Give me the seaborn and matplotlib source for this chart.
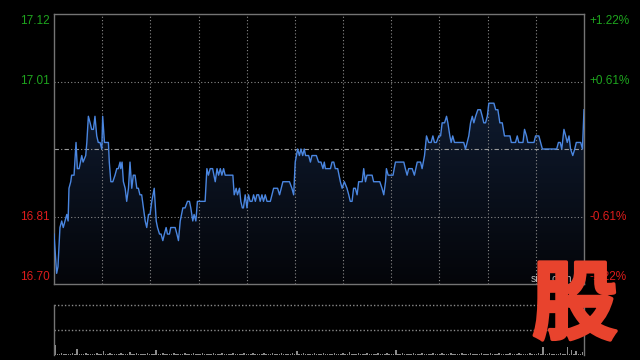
import numpy as np
import matplotlib
matplotlib.use("Agg")
import matplotlib.pyplot as plt
import matplotlib.patheffects as pe
from matplotlib.colors import LinearSegmentedColormap
import seaborn as sns

# ---------------- data ----------------
prev_close = 16.91
pct_range = 1.22
left_labels = ["17.12", "17.01", "16.81", "16.70"]
right_labels = ["+1.22%", "+0.61%", "-0.61%", "-1.22%"]

# minute index (0 = open) and price
t = [0, 1.2, 1.8, 2.7, 3.5, 4.2, 5, 5.8, 6.4, 6.8, 7.6, 8, 9.1, 10, 10.6, 11.4, 12.6, 13.2, 14.4, 14.9,
     15.6, 16.4, 17.1, 17.9, 18.6, 19.4, 20.1, 20.9, 21.7, 22.1, 22.9, 23.6, 24.7, 25.1, 25.8, 26.7, 27.7,
     28.5, 29.2, 30, 30.3, 30.9, 31.5, 32.3, 33, 33.8, 34.5, 35.3, 36, 36.8, 37.6, 38.3, 39, 39.8, 40.6,
     41.4, 42.1, 42.9, 43.6, 44.4, 45.5, 46.4, 47, 47.9, 48.6, 49.4, 50.1, 50.9, 51.5, 52.4, 53, 55, 55.8,
     56.5, 57.3, 58.5, 59.5, 60.6, 61.5, 62.1, 63, 63.6, 64.4, 65.1, 68.6, 69.4, 70.1, 70.9, 72, 73.2, 74,
     74.7, 75.5, 76.2, 77, 77.7, 81.2, 81.8, 82.7, 83.3, 84.2, 84.8, 85.5, 86, 86.8, 87.6, 88.3, 89, 89.9,
     90.6, 91.4, 92.1, 92.9, 93.6, 94.4, 95.1, 95.9, 96.7, 98.2, 99.7, 101.5, 102.4, 103.9, 106.9, 108,
     108.8, 109.5, 110.6, 111.4, 112.1, 112.9, 113.6, 114.2, 115.6, 116.4, 117.1, 119.1, 120.1, 121.2,
     122.1, 122.7, 123.2, 125.5, 126.2, 127, 127.7, 128.8, 130, 130.8, 131.8, 133, 133.8, 134.5, 135.3,
     136, 136.8, 137.6, 138.3, 139.9, 140.6, 141.4, 142.1, 144.4, 145.1, 147.9, 148.9, 149.7, 150.5,
     150.9, 151.7, 153.9, 155, 158.8, 159.5, 160.3, 161, 162.6, 163.6, 164.9, 166.4, 167.1, 168.2, 169.1,
     170.1, 171.2, 172, 172.7, 173.6, 174.7, 175.5, 176.2, 177.3, 178.2, 178.8, 179.7, 180.3, 181, 181.8,
     186, 186.8, 188.3, 189.1, 189.9, 190.6, 191.4, 192.4, 193.6, 194.4, 195.1, 195.9, 196.7, 197.4,
     199.7, 200.5, 201.5, 202.4, 203.5, 204.5, 207, 207.6, 209.5, 210.3, 211, 212.9, 213.6, 214.5, 215.1,
     217.9, 218.6, 220.1, 220.9, 221.7, 228.2, 229, 229.8, 230.5, 231.5, 232.3, 233, 233.8, 234.5, 235.5,
     236.4, 237.1, 239.1, 239.9, 240.6]

price = [16.78, 16.72, 16.73, 16.79, 16.80, 16.79, 16.80, 16.81, 16.80, 16.85, 16.86, 16.87, 16.87, 16.92,
         16.88, 16.88, 16.90, 16.89, 16.90, 16.92, 16.96, 16.95, 16.94, 16.94, 16.96, 16.93, 16.92, 16.92,
         16.91, 16.96, 16.92, 16.92, 16.92, 16.89, 16.86, 16.86, 16.87, 16.88, 16.88, 16.89, 16.88, 16.89,
         16.86, 16.85, 16.83, 16.85, 16.89, 16.85, 16.87, 16.87, 16.85, 16.85, 16.84, 16.84, 16.82, 16.80,
         16.79, 16.81, 16.81, 16.83, 16.85, 16.80, 16.79, 16.78, 16.78, 16.77, 16.78, 16.79, 16.78, 16.78,
         16.79, 16.79, 16.78, 16.77, 16.80, 16.82, 16.82, 16.83, 16.83, 16.82, 16.80, 16.81, 16.80, 16.83,
         16.83, 16.88, 16.87, 16.88, 16.88, 16.86, 16.88, 16.87, 16.88, 16.87, 16.88, 16.87, 16.87, 16.84,
         16.85, 16.84, 16.85, 16.83, 16.82, 16.82, 16.84, 16.82, 16.84, 16.83, 16.83, 16.84, 16.83, 16.84,
         16.84, 16.83, 16.84, 16.83, 16.84, 16.83, 16.83, 16.85, 16.85, 16.84, 16.86, 16.86, 16.85, 16.84,
         16.89, 16.91, 16.90, 16.91, 16.90, 16.91, 16.90, 16.90, 16.89, 16.90, 16.90, 16.89, 16.89, 16.88,
         16.89, 16.88, 16.88, 16.89, 16.89, 16.88, 16.88, 16.86, 16.85, 16.86, 16.85, 16.84, 16.83, 16.83,
         16.85, 16.85, 16.84, 16.86, 16.86, 16.88, 16.86, 16.87, 16.87, 16.86, 16.86, 16.85, 16.84, 16.86,
         16.88, 16.87, 16.87, 16.89, 16.89, 16.88, 16.87, 16.88, 16.88, 16.87, 16.89, 16.89, 16.88, 16.90,
         16.93, 16.92, 16.92, 16.93, 16.92, 16.92, 16.93, 16.93, 16.95, 16.95, 16.96, 16.95, 16.93, 16.92,
         16.93, 16.92, 16.92, 16.91, 16.93, 16.95, 16.96, 16.95, 16.96, 16.97, 16.97, 16.96, 16.95, 16.95,
         16.96, 16.98, 16.98, 16.97, 16.97, 16.95, 16.95, 16.93, 16.93, 16.92, 16.92, 16.93, 16.92, 16.92,
         16.94, 16.93, 16.92, 16.92, 16.93, 16.93, 16.92, 16.91, 16.91, 16.92, 16.92, 16.91, 16.94, 16.93,
         16.92, 16.93, 16.91, 16.90, 16.91, 16.92, 16.92, 16.91, 16.97]

volume = [20, 3, 2, 4, 3, 2, 3, 2, 4, 3, 12, 3, 2, 3, 4, 2, 3, 2, 3, 4,
          3, 2, 8, 3, 2, 4, 3, 2, 3, 2, 4, 3, 2, 3, 6, 3, 2, 4, 3, 2,
          3, 2, 4, 3, 2, 3, 10, 3, 2, 4, 3, 2, 3, 2, 4, 3, 2, 3, 2, 4,
          3, 2, 3, 4, 2, 3, 2, 4, 3, 2, 3, 2, 4, 3, 2, 3, 4, 2, 3, 2,
          3, 4, 2, 3, 2, 3, 4, 2, 3, 2, 4, 3, 2, 3, 2, 4, 3, 2, 3, 4,
          2, 3, 2, 4, 3, 2, 3, 2, 4, 3, 8, 3, 2, 4, 3, 2, 3, 2, 4, 3,
          2, 3, 4, 2, 3, 2, 3, 4, 2, 3, 2, 4, 3, 2, 6, 3, 2, 3, 4, 2,
          3, 2, 4, 3, 2, 3, 2, 4, 3, 2, 3, 4, 2, 3, 2, 10, 3, 2, 4, 3,
          2, 3, 2, 4, 3, 2, 3, 4, 2, 3, 2, 3, 4, 2, 3, 2, 4, 3, 2, 3,
          4, 2, 3, 2, 3, 4, 2, 3, 2, 4, 3, 2, 3, 2, 4, 3, 2, 3, 4, 2,
          3, 2, 4, 3, 2, 3, 2, 4, 3, 2, 3, 4, 2, 3, 2, 3, 4, 2, 3, 2,
          4, 3, 16, 3, 2, 4, 3, 2, 3, 2, 4, 3, 2, 16, 3, 10, 2, 8, 3, 2,
          6]

# ---------------- style ----------------
plt.rcParams['font.family'] = ['Liberation Sans', 'Noto Sans CJK SC', 'DejaVu Sans']
GREEN = '#1ea51e'
RED = '#dd1c1c'
FRAME = '#747474'
GRID = '#8a8a8a'
LINE = '#4a86e0'

fig = plt.figure(figsize=(6.4, 3.6), dpi=100, facecolor='black')
ax = fig.add_axes([54 / 640, 76 / 360, 530 / 640, 270 / 360], facecolor='black')
axv = fig.add_axes([54 / 640, 5 / 360, 530 / 640, 50 / 360], facecolor='black')

ymin = prev_close * (1 - pct_range / 100)
ymax = prev_close * (1 + pct_range / 100)
xmax = max(t)

# gradient fill under line
poly = ax.fill_between(t, price, ymin, color='none', linewidth=0)
cmap = LinearSegmentedColormap.from_list('g', ['#040509', '#142541'])
grad = np.linspace(0, 1, 256).reshape(-1, 1)
im = ax.imshow(grad, extent=[0, xmax, ymin, ymax], aspect='auto', cmap=cmap,
               origin='lower', zorder=1)
im.set_clip_path(poly.get_paths()[0], transform=ax.transData)

# grid
for xv in np.linspace(0, xmax, 12)[1:-1]:
    ax.axvline(xv, color=GRID, lw=0.8, ls=(0, (1, 2)), zorder=2)
q = (ymax - ymin) / 4
ax.axhline(ymin + q, color=GRID, lw=0.8, ls=(0, (1, 2)), zorder=2)
ax.axhline(ymax - q, color=GRID, lw=0.8, ls=(0, (1, 2)), zorder=2)
ax.axhline(prev_close, color='#9a9a9a', lw=0.8, ls=(0, (4, 2, 1, 2)), zorder=2)

sns.lineplot(x=t, y=price, ax=ax, color=LINE, linewidth=1.0, estimator=None, sort=False, zorder=3)

ax.set_xlim(0, xmax)
ax.set_ylim(ymin, ymax)
ax.set_xticks([])
ax.set_yticks([])
ax.set_xlabel('')
ax.set_ylabel('')
for s in ax.spines.values():
    s.set_color(FRAME)
    s.set_linewidth(1.0)

# axis labels
ypos = [ymax, ymax - q, ymin + q, ymin]
vas = ['top', 'center', 'center', 'bottom']
offs = [-1, 0, 0, 1]
colors = [GREEN, GREEN, RED, RED]
for yv, va, lab_l, lab_r, c, o in zip(ypos, vas, left_labels, right_labels, colors, offs):
    ax.annotate(lab_l, xy=(0, yv), xycoords=('axes fraction', 'data'), xytext=(-3, o),
                textcoords='offset points', ha='right', va=va, color=c, fontsize=8.5)
    ax.annotate(lab_r, xy=(1, yv), xycoords=('axes fraction', 'data'), xytext=(4, o),
                textcoords='offset points', ha='left', va=va, color=c, fontsize=8.5)

# volume panel
axv.bar(np.arange(len(volume)), volume, width=0.7, color='#8c8c8c', zorder=2)
axv.set_xlim(-0.5, xmax)
axv.set_ylim(0, 100)
axv.axhline(100, color=GRID, lw=1.0, ls=(0, (1, 1.5)), clip_on=False)
axv.axhline(50, color=GRID, lw=1.0, ls=(0, (1, 1.5)))
axv.set_xticks([])
axv.set_yticks([])
for k in ['top', 'bottom']:
    axv.spines[k].set_visible(False)
for k in ['left', 'right']:
    axv.spines[k].set_color(FRAME)
    axv.spines[k].set_linewidth(1.0)

# watermark
fig.text(531 / 640, 1 - 279 / 360, 'sina.com.cn', color='#bbbbbb', fontsize=7.5,
         ha='left', va='center')
fig.text(575 / 640, 1 - 307 / 360, '股', color='#e8432d', fontsize=62,
         family=['Noto Sans CJK SC'], fontweight='black', ha='center', va='center', zorder=10,
         path_effects=[pe.withStroke(linewidth=2.5, foreground='#e8432d')])

fig.savefig('out.png', dpi=100, facecolor='black')
